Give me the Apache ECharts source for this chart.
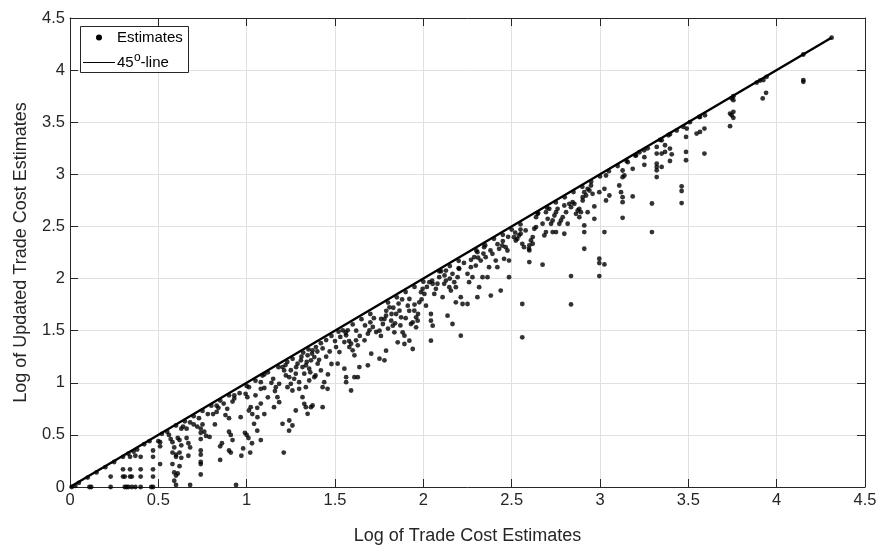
<!DOCTYPE html>
<html>
<head>
<meta charset="utf-8">
<script src="https://cdn.jsdelivr.net/npm/echarts@6/dist/echarts.min.js"></script>
<style>
  html, body { margin: 0; padding: 0; background: #fff; }
  #chart-container { width: 878px; height: 548px; }
</style>
</head>
<body>
<div id="chart-container"></div>
<script>
// axis range and ticks
var axisMin = 0;
var axisMax = 4.5;
var tickStep = 0.5;

// end points of the 45-degree line
var lineEnds = [[0, 0], [4.31, 4.31]];

// estimates, read off the picture region by region
var ptsNearZero = [
  [0.01, 0.0], [0.03, 0.01], [0.11, 0], [0.12, 0], [0.23, 0], [0.31, 0], [0.32, 0], [0.33, 0], [0.35, 0], [0.37, 0], [0.40, 0], [0.46, 0], [0.47, 0],
  [0.23, 0.10], [0.30, 0.10], [0.31, 0.10], [0.34, 0.10], [0.35, 0.10], [0.40, 0.10], [0.47, 0.10],
  [0.30, 0.17], [0.34, 0.17], [0.40, 0.17], [0.47, 0.17],
  [0.34, 0.29], [0.40, 0.29], [0.47, 0.29], [0.37, 0.30], [0.36, 0.34], [0.47, 0.35],
  [0.05, 0.04], [0.10, 0.09], [0.15, 0.14], [0.20, 0.19], [0.25, 0.24], [0.30, 0.29], [0.33, 0.32], [0.38, 0.36], [0.42, 0.41], [0.45, 0.44]
];

var ptsLow = [
  [0.51, 0.43], [0.51, 0.39], [0.51, 0.22], [0.50, 0.44],
  [0.57, 0.46], [0.58, 0.43], [0.59, 0.38], [0.58, 0.33], [0.60, 0.29], [0.58, 0.22], [0.59, 0.14], [0.60, 0.11], [0.59, 0.06], [0.60, 0.02], [0.61, 0.47], [0.60, 0.31],
  [0.62, 0.45], [0.63, 0.40], [0.62, 0.33], [0.63, 0.28], [0.62, 0.20], [0.61, 0.13],
  [0.66, 0.47], [0.67, 0.42], [0.68, 0.38], [0.67, 0.30], [0.68, 0.02], [0.66, 0.56], [0.64, 0.58],
  [0.70, 0.60], [0.72, 0.58],
  [0.74, 0.56], [0.74, 0.52], [0.74, 0.46], [0.74, 0.35], [0.74, 0.31], [0.74, 0.24], [0.74, 0.22], [0.74, 0.12], [0.75, 0.60], [0.76, 0.53],
  [0.77, 0.49], [0.79, 0.48],
  [0.82, 0.60], [0.83, 0.72], [0.84, 0.76], [0.85, 0.39], [0.85, 0.26], [0.86, 0.42], [0.81, 0.70],
  [0.88, 0.69], [0.89, 0.75], [0.90, 0.66], [0.90, 0.53], [0.91, 0.50], [0.92, 0.45], [0.90, 0.35], [0.91, 0.33], [0.92, 0.82], [0.93, 0.85], [0.94, 0.02],
  [0.52, 0.51], [0.55, 0.53], [0.60, 0.59], [0.65, 0.63], [0.70, 0.68], [0.75, 0.73], [0.80, 0.78], [0.85, 0.83], [0.90, 0.88],
  [0.56, 0.50], [0.63, 0.56], [0.68, 0.62], [0.73, 0.66], [0.78, 0.70], [0.83, 0.78], [0.87, 0.80], [0.93, 0.88], [0.96, 0.90],
  [0.97, 0.30], [0.98, 0.37], [0.99, 0.52], [1.00, 0.50], [1.01, 0.47], [1.03, 0.42], [1.02, 0.33], [1.21, 0.33], [1.06, 0.54], [1.08, 0.45], [1.24, 0.54]
];

var ptsOne = [
  [0.966, 0.67], [0.994, 0.894], [1.004, 0.862], [1.013, 0.958], [1.013, 0.734], [1.023, 0.766], [1.032, 0.70], [1.042, 0.606], [1.061, 0.67], [1.08, 0.942], [1.08, 1.006], [1.089, 1.07],
  [1.05, 0.88], [1.08, 0.80], [1.10, 0.95], [1.12, 0.86], [1.14, 1.00], [1.16, 0.92], [1.10, 0.70], [1.06, 0.76],
  [1.15, 1.038], [1.165, 0.958], [1.174, 0.862], [1.184, 0.99], [1.203, 1.151], [1.212, 1.119], [1.222, 1.071], [1.231, 0.958], [1.241, 1.054], [1.25, 0.99], [1.259, 0.926], [1.269, 1.038], [1.278, 1.087], [1.288, 1.183], [1.297, 1.006],
  [1.203, 0.606], [1.241, 0.638], [1.259, 0.59], [1.278, 0.734], [1.155, 0.766], [1.184, 0.814], [1.297, 0.942],
  [1.307, 1.215], [1.316, 1.151], [1.326, 1.087], [1.335, 1.167], [1.345, 1.263], [1.354, 1.135], [1.364, 1.215], [1.373, 1.311], [1.383, 1.247], [1.392, 1.343], [1.402, 1.183],
  [1.354, 1.022], [1.335, 0.958], [1.316, 0.862], [1.326, 0.798], [1.335, 0.766], [1.345, 0.702], [1.364, 0.766], [1.373, 0.782], [1.43, 0.766], [1.42, 1.119], [1.439, 1.006], [1.43, 0.958], [1.458, 0.942], [1.383, 1.054],
  [1.45, 1.25], [1.47, 1.30], [1.48, 1.18], [1.46, 1.08],
  [1.22, 1.17], [1.25, 1.12], [1.28, 1.15], [1.31, 1.25], [1.34, 1.20], [1.37, 1.28], [1.40, 1.30], [1.43, 1.33], [1.36, 1.10], [1.39, 1.07], [1.41, 1.22],
  [1.506, 1.343], [1.515, 1.183], [1.525, 1.295], [1.544, 1.503], [1.553, 1.391], [1.563, 1.455], [1.572, 1.503], [1.581, 1.343], [1.591, 1.375], [1.60, 1.311], [1.61, 1.263], [1.619, 1.407], [1.629, 1.359],
  [1.553, 1.135], [1.563, 1.054], [1.563, 1.006], [1.591, 0.926], [1.61, 1.054], [1.629, 1.054], [1.638, 1.151],
  [1.50, 1.40], [1.53, 1.44], [1.56, 1.48], [1.58, 1.40], [1.62, 1.50], [1.64, 1.45], [1.67, 1.55], [1.70, 1.58], [1.72, 1.62],
  [1.667, 1.407], [1.686, 1.471], [1.695, 1.503], [1.705, 1.279], [1.714, 1.535], [1.733, 1.487], [1.752, 1.231], [1.78, 1.215], [1.686, 1.167],
  [1.00, 0.97], [1.05, 1.02], [1.10, 1.08], [1.12, 1.10], [1.18, 1.15], [1.23, 1.20], [1.26, 1.23], [1.32, 1.29], [1.35, 1.32], [1.42, 1.38], [1.45, 1.41], [1.48, 1.45], [1.52, 1.49], [1.60, 1.56], [1.65, 1.61], [1.70, 1.66]
];

var ptsTwo = [
  [1.752, 1.5], [1.761, 1.612], [1.771, 1.564],
  [1.78, 1.612], [1.789, 1.644], [1.808, 1.724], [1.818, 1.596], [1.827, 1.548], [1.836, 1.484], [1.846, 1.66], [1.865, 1.692], [1.874, 1.628], [1.883, 1.484], [1.893, 1.452],
  [1.912, 1.74], [1.921, 1.804], [1.93, 1.564], [1.94, 1.58], [1.949, 1.692], [1.959, 1.628], [1.968, 1.596], [1.977, 1.772], [1.987, 1.869], [1.94, 1.324], [1.959, 1.532],
  [1.76, 1.45], [1.80, 1.52], [1.82, 1.66], [1.84, 1.57], [1.87, 1.55], [1.90, 1.62], [1.92, 1.69], [1.95, 1.75], [1.97, 1.66], [1.99, 1.80], [1.86, 1.76], [1.88, 1.80], [1.83, 1.72], [1.79, 1.69],
  [1.996, 1.901], [2.006, 1.853], [2.015, 1.74], [2.034, 1.965], [2.043, 1.66], [2.043, 1.596], [2.053, 1.548], [2.043, 1.404], [1.921, 1.404], [1.789, 1.308], [1.855, 1.388], [1.893, 1.372],
  [2.053, 1.949], [2.062, 1.853], [2.071, 1.901], [2.09, 2.013], [2.109, 1.821], [2.118, 1.949], [2.128, 1.981], [2.137, 1.644], [2.147, 1.917], [2.156, 1.885], [2.165, 2.045], [2.175, 1.965],
  [2.184, 1.917], [2.194, 2.013], [2.203, 2.093], [2.212, 1.821], [2.222, 1.756], [2.165, 1.564], [2.184, 1.772], [2.09, 2.07], [2.128, 2.077],
  [2.02, 1.92], [2.05, 1.98], [2.08, 1.95], [2.12, 2.03], [2.15, 2.00], [2.20, 2.10], [2.23, 2.15], [2.27, 2.18], [2.31, 2.20], [2.34, 2.24], [2.38, 2.27], [2.42, 2.33], [2.45, 2.36], [2.48, 2.40], [2.52, 2.44], [2.55, 2.47],
  [2.25, 2.045], [2.259, 1.965], [2.269, 2.109], [2.278, 2.013], [2.288, 2.205], [2.297, 2.125], [2.306, 2.253], [2.316, 1.917], [2.325, 2.173], [2.335, 2.013], [2.344, 2.301], [2.353, 2.205],
  [2.363, 2.013], [2.372, 2.109], [2.382, 1.837], [2.391, 2.237], [2.40, 2.381], [2.41, 2.173], [2.419, 2.109], [2.429, 2.285], [2.438, 1.885], [2.447, 2.317], [2.457, 2.189], [2.466, 2.301],
  [2.476, 2.269], [2.485, 2.013], [2.485, 2.173], [2.306, 1.821], [2.25, 1.756], [2.212, 1.452],
  [2.513, 2.397], [2.523, 2.365], [2.532, 2.381], [2.541, 2.413], [2.551, 2.429], [2.56, 2.333], [2.57, 2.301], [2.579, 2.462], [2.598, 2.285], [2.56, 1.756], [2.56, 1.436],
  [1.80, 1.77], [1.85, 1.82], [1.90, 1.87], [1.95, 1.92], [2.00, 1.97], [2.10, 2.07], [2.15, 2.12], [2.20, 2.17], [2.30, 2.27], [2.35, 2.32], [2.45, 2.42], [2.50, 2.47], [2.55, 2.52]
];

var ptsThree = [
  [2.60, 2.318], [2.609, 2.366], [2.619, 2.398], [2.628, 2.478], [2.638, 2.494], [2.638, 2.589], [2.647, 2.621], [2.619, 2.334], [2.60, 2.27], [2.60, 2.158], [2.675, 2.133],
  [2.694, 2.637], [2.704, 2.573], [2.713, 2.669], [2.723, 2.526], [2.732, 2.557], [2.742, 2.605], [2.751, 2.637], [2.76, 2.669], [2.77, 2.526], [2.779, 2.557], [2.789, 2.589],
  [2.798, 2.701], [2.808, 2.637], [2.817, 2.526], [2.826, 2.717], [2.836, 2.685], [2.845, 2.733], [2.855, 2.717], [2.864, 2.621], [2.874, 2.653], [2.883, 2.669], [2.892, 2.637],
  [2.685, 2.414], [2.694, 2.446], [2.732, 2.446], [2.751, 2.446], [2.798, 2.43], [2.836, 2.024], [2.836, 1.752], [2.675, 2.526],
  [2.902, 2.781], [2.911, 2.829], [2.921, 2.797], [2.93, 2.861], [2.94, 2.845], [2.949, 2.893], [2.958, 2.813], [2.968, 2.692], [2.968, 2.573], [2.911, 2.51], [2.911, 2.446], [2.911, 2.286],
  [2.93, 2.637], [2.996, 2.829], [3.025, 2.861], [3.034, 2.749], [3.053, 2.797], [3.025, 2.446], [2.996, 2.19], [2.996, 2.149], [3.025, 2.136], [2.996, 2.024], [3.034, 2.989], [2.902, 2.749], [2.883, 2.589],
  [3.109, 2.893], [3.119, 2.829], [3.128, 2.973], [3.128, 2.781], [3.128, 2.733], [3.138, 2.989], [3.128, 2.583], [3.157, 3.117], [3.185, 3.053], [3.185, 2.788], [3.204, 3.181], [3.223, 3.212],
  [3.251, 3.165], [3.251, 3.091], [3.27, 3.25], [3.294, 2.72], [3.294, 2.446], [3.128, 3.037],
  [2.65, 2.63], [2.70, 2.68], [2.75, 2.73], [2.80, 2.78], [2.85, 2.83], [2.90, 2.88], [2.95, 2.93], [3.00, 2.98], [3.05, 3.03], [3.10, 3.08], [3.15, 3.13], [3.20, 3.18], [3.25, 3.23]
];

var ptsHigh = [
  [3.321, 3.263], [3.321, 3.199], [3.321, 3.103], [3.321, 3.071], [3.321, 3.038], [3.349, 3.071], [3.321, 2.974], [3.349, 3.199], [3.368, 3.215], [3.368, 3.279], [3.396, 3.247],
  [3.406, 3.192], [3.396, 3.128], [3.387, 3.375], [3.349, 3.327], [3.462, 2.885], [3.462, 2.84], [3.462, 2.724], [3.487, 3.359], [3.487, 3.215], [3.487, 3.135], [3.491, 3.439],
  [3.472, 3.455], [3.547, 3.391], [3.566, 3.407], [3.591, 3.439], [3.591, 3.199], [3.566, 3.551], [3.594, 3.567], [3.736, 3.583], [3.745, 3.567], [3.755, 3.60], [3.755, 3.542],
  [3.736, 3.462], [3.745, 3.728], [3.755, 3.712], [3.925, 3.904], [3.943, 3.936], [3.921, 3.728], [3.94, 3.782], [4.151, 3.904], [4.151, 3.888], [4.311, 4.311], [4.151, 4.15],
  [3.887, 3.88], [3.906, 3.9], [3.755, 3.75], [3.562, 3.55], [3.509, 3.5], [3.434, 3.42], [3.396, 3.385], [3.34, 3.33]
];

var estimates = ptsNearZero.concat(ptsLow, ptsOne, ptsTwo, ptsThree, ptsHigh);

var fontFamily = '"Liberation Sans", Arial, Helvetica, sans-serif';
var ink = '#262626';

var dom = document.getElementById('chart-container');
var myChart = echarts.init(dom, null, { renderer: 'canvas' });

function boxAxis(pos) {
  return {
    type: 'value',
    position: pos,
    min: axisMin,
    max: axisMax,
    interval: tickStep,
    axisLine: { show: true, onZero: false, lineStyle: { color: ink, width: 1 } },
    axisTick: { show: true, inside: true, length: 8, lineStyle: { color: ink } },
    axisLabel: { show: false },
    splitLine: { show: false }
  };
}

var option = {
  animation: false,
  backgroundColor: '#fff',
  grid: { left: 70, right: 13, top: 18, bottom: 61, containLabel: false, outerBoundsMode: 'none' },
  xAxis: [
    {
      type: 'value',
      position: 'bottom',
      min: axisMin,
      max: axisMax,
      interval: tickStep,
      name: 'Log of Trade Cost Estimates',
      nameLocation: 'middle',
      nameGap: 40,
      nameTextStyle: { color: ink, fontSize: 18, fontFamily: fontFamily },
      axisLine: { show: true, onZero: false, lineStyle: { color: ink, width: 1 } },
      axisTick: { show: true, inside: true, length: 8, lineStyle: { color: ink } },
      axisLabel: { color: ink, fontSize: 16.5, fontFamily: fontFamily, margin: 5 },
      splitLine: { show: true, lineStyle: { color: '#e0e0e0', width: 1 } }
    },
    boxAxis('top')
  ],
  yAxis: [
    {
      type: 'value',
      position: 'left',
      min: axisMin,
      max: axisMax,
      interval: tickStep,
      name: 'Log of Updated Trade Cost Estimates',
      nameLocation: 'middle',
      nameGap: 40,
      nameTextStyle: { color: ink, fontSize: 18, fontFamily: fontFamily },
      axisLine: { show: true, onZero: false, lineStyle: { color: ink, width: 1 } },
      axisTick: { show: true, inside: true, length: 8, lineStyle: { color: ink } },
      axisLabel: { color: ink, fontSize: 16.5, fontFamily: fontFamily, margin: 5 },
      splitLine: { show: true, lineStyle: { color: '#e0e0e0', width: 1 } }
    },
    boxAxis('right')
  ],
  series: [
    {
      name: '45°-line',
      type: 'line',
      data: lineEnds,
      symbol: 'none',
      lineStyle: { color: '#000', width: 2.4 },
      z: 2
    },
    {
      name: 'Estimates',
      type: 'scatter',
      data: estimates,
      symbol: 'circle',
      symbolSize: 4.8,
      itemStyle: { color: '#000' },
      z: 3
    }
  ],
  // legend box drawn by hand so the dot, line and superscript match
  graphic: [
    {
      type: 'rect',
      shape: { x: 80.5, y: 26.5, width: 108, height: 46 },
      style: { fill: '#fff', stroke: ink, lineWidth: 1 },
      z: 10
    },
    {
      type: 'circle',
      shape: { cx: 99, cy: 37.5, r: 3 },
      style: { fill: '#000' },
      z: 11
    },
    {
      type: 'line',
      shape: { x1: 83, y1: 62.5, x2: 115, y2: 62.5 },
      style: { stroke: '#000', lineWidth: 1 },
      z: 11
    },
    {
      type: 'text',
      x: 117, y: 37.5,
      style: { text: 'Estimates', fill: '#000', font: '15px ' + fontFamily, verticalAlign: 'middle' },
      z: 11
    },
    {
      type: 'text',
      x: 117, y: 63,
      style: { text: '45', fill: '#000', font: '15px ' + fontFamily, verticalAlign: 'middle' },
      z: 11
    },
    {
      type: 'text',
      x: 134, y: 57.5,
      style: { text: 'o', fill: '#000', font: '12px ' + fontFamily, verticalAlign: 'middle' },
      z: 11
    },
    {
      type: 'text',
      x: 140.5, y: 63,
      style: { text: '-line', fill: '#000', font: '15px ' + fontFamily, verticalAlign: 'middle' },
      z: 11
    }
  ]
};

myChart.setOption(option);
window.addEventListener('resize', myChart.resize);
</script>
</body>
</html>
